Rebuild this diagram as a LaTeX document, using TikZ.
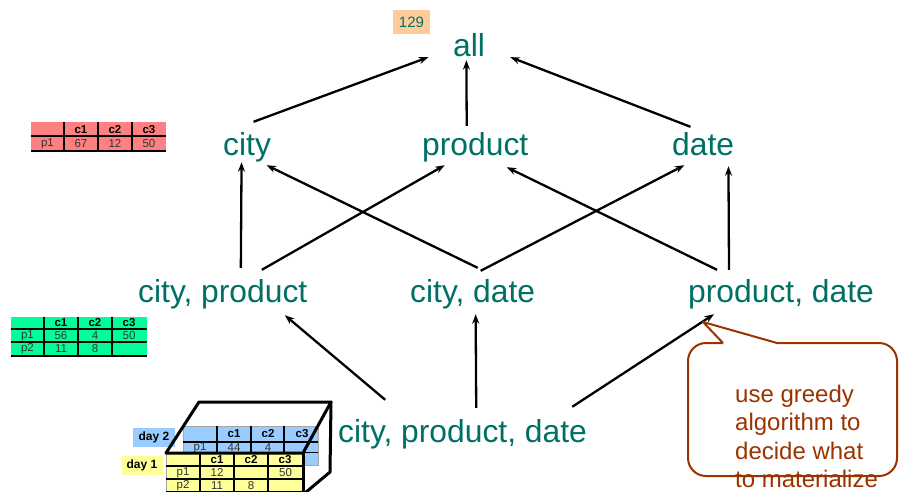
\documentclass[tikz,border=0pt]{standalone}
\usepackage{fontspec}
\setmainfont{Liberation Sans}
\usetikzlibrary{arrows.meta}
\definecolor{lattext}{RGB}{0,112,100}
\definecolor{notebrown}{RGB}{153,51,0}
\definecolor{tabred}{RGB}{255,128,128}
\definecolor{tabgreen}{RGB}{0,255,153}
\definecolor{tabblue}{RGB}{153,204,255}
\definecolor{tabyellow}{RGB}{255,255,153}
\definecolor{tabpeach}{RGB}{255,204,153}

\begin{document}
\begin{tikzpicture}[x=1pt,y=-1pt,>={Stealth[length=9.5pt,width=7pt]},
    lat/.style={anchor=base west,inner sep=0pt,text=lattext,
      font=\fontsize{31.8}{36}\selectfont,text height=23pt,text depth=7pt},
    link/.style={->,line width=2.3pt},
    tcell/.style={inner sep=0pt,text=black!80,font=\fontsize{11.5}{12}\selectfont},
    hcell/.style={inner sep=0pt,text=black,font=\fontsize{11.5}{12}\selectfont\bfseries},
    cellrule/.style={line width=1.3pt},
    rim/.style={line width=0.8pt,black!35},
    cubeedge/.style={line width=3pt,line join=round,line cap=round},
    daylabel/.style={inner sep=0pt,minimum height=19pt,font=\fontsize{12}{14}\selectfont\bfseries},
    callout/.style={line width=2pt,notebrown,line join=round}]
  \useasboundingbox (0,0) rectangle (899,491);

  % lattice
  \node[lat] (all) at (453,56) {all};
  \node[lat] (city) at (223,155) {city};
  \node[lat] (product) at (422,155) {product};
  \node[lat] (date) at (672,155) {date};
  \node[lat] (cp) at (138,302) {city, product};
  \node[lat] (cd) at (410,302) {city, date};
  \node[lat] (pd) at (688,302) {product, date};
  \node[lat] (cpd) at (338,442) {city, product, date};

  \node[fill=tabpeach,inner sep=0pt,minimum width=37pt,minimum height=24pt,
    text=lattext,font=\fontsize{15}{16}\selectfont] (cnt) at (411.5,22) {129};

  \draw[link] ([xshift=6.5pt,yshift=10pt]city.north) -- ([xshift=-40.75pt,yshift=6pt]all.south);
  \draw[link] ([xshift=-8.5pt,yshift=6pt]product.north) -- ([xshift=-2.75pt,yshift=3pt]all.south);
  \draw[link] ([xshift=-12.7pt,yshift=5pt]date.north) -- ([xshift=41.25pt,yshift=6pt]all.south);

  \draw[link] ([xshift=18.1pt,yshift=11pt]cp.north) -- ([xshift=-5.5pt]city.south);
  \draw[link] ([xshift=39.1pt,yshift=9pt]cp.north) -- ([xshift=-30.5pt,yshift=-3pt]product.south);
  \draw[link] ([xshift=5pt,yshift=11pt]cd.north) -- ([xshift=19.5pt,yshift=-3pt]city.south);
  \draw[link] ([xshift=8pt,yshift=8pt]cd.north) -- ([xshift=-18.7pt,yshift=-3pt]date.south);
  \draw[link] ([xshift=-64pt,yshift=9pt]pd.north) -- ([xshift=31.5pt,yshift=-5pt]product.south);
  \draw[link] ([xshift=-52pt,yshift=9pt]pd.north) -- ([xshift=25.3pt,yshift=-4pt]date.south);

  \draw[link] ([xshift=-77.3pt,yshift=19pt]cpd.north) -- ([xshift=62.1pt,yshift=-6pt]cp.south);
  \draw[link] ([xshift=13.7pt,yshift=11pt]cpd.north) -- ([xshift=3pt,yshift=-5pt]cd.south);
  \draw[link] ([xshift=109.7pt,yshift=12pt]cpd.north) -- ([xshift=-67pt,yshift=-5pt]pd.south);

  % red table
  \fill[tabred] (31,122) rectangle (166,151);
  \draw[cellrule] (31,136) -- (166,136) (31,151) -- (166,151);
  \foreach \x in {64,98,132} \draw[cellrule] (\x,122) -- (\x,151);
  \foreach \t [count=\i] in {c1,c2,c3} \node[hcell] (r-h\i) at (47+34*\i,129.5) {\t};
  \node[tcell] (r-p1) at (47.5,143.5) {p1};
  \foreach \t [count=\i] in {67,12,50} \node[tcell] (r-a\i) at (47+34*\i,143.5) {\t};

  % green table
  \fill[tabgreen] (11,317) rectangle (147,356);
  \draw[cellrule] (11,329) -- (147,329) (11,342) -- (147,342) (11,356) -- (147,356);
  \foreach \x in {44,78,112} \draw[cellrule] (\x,317) -- (\x,356);
  \foreach \t [count=\i] in {c1,c2,c3} \node[hcell] (g-h\i) at (27+34*\i,323) {\t};
  \node[tcell] (g-p1) at (27.5,335.5) {p1};
  \foreach \t [count=\i] in {56,4,50} \node[tcell] (g-a\i) at (27+34*\i,335.5) {\t};
  \node[tcell] (g-p2) at (27.5,349) {p2};
  \foreach \t [count=\i] in {11,8} \node[tcell] (g-b\i) at (27+34*\i,349) {\t};

  % day 2
  \fill[tabblue] (183,426) rectangle (318,465);
  \draw[rim] (183,426) rectangle (318,465);
  \draw[cellrule] (183,442) -- (318,442) (183,452.5) -- (318,452.5);
  \foreach \x in {217,251,284} \draw[cellrule] (\x,426) -- (\x,465);
  \foreach \t [count=\i] in {c1,c2,c3} \node[hcell] (b-h\i) at (200+34*\i,434) {\t};
  \node[tcell] (b-p1) at (200,447.5) {p1};
  \foreach \t [count=\i] in {44,4} \node[tcell] (b-a\i) at (200+34*\i,447.5) {\t};
  \node[daylabel,fill=tabblue,minimum width=42pt] (day2) at (154,437.5) {day 2};

  % day 1
  \fill[tabyellow] (166,453) rectangle (303,495);
  \draw[rim] (166,453) -- (166,495);
  \draw[cellrule] (166,466) -- (303,466) (166,479) -- (303,479) (166,492) -- (303,492);
  \foreach \x in {200,234,268} \draw[cellrule] (\x,453) -- (\x,495);
  \foreach \t [count=\i] in {c1,c2,c3} \node[hcell] (y-h\i) at (183+34*\i,459.5) {\t};
  \node[tcell] (y-p1) at (183,472.5) {p1};
  \node[tcell] (y-a1) at (217,472.5) {12};
  \node[tcell] (y-a3) at (285.5,472.5) {50};
  \node[tcell] (y-p2) at (183,485.5) {p2};
  \foreach \t [count=\i] in {11,8} \node[tcell] (y-b\i) at (183+34*\i,485.5) {\t};
  \node[daylabel,fill=tabyellow,minimum width=41pt] (day1) at (142,465.5) {day 1};

  % cube
  \draw[cubeedge] (166,453) -- (199,402) -- (331,402) -- (303,453) -- cycle;
  \draw[cubeedge] (331,402) -- (330,472) -- (305,493);
  \draw[cubeedge] (303,453) -- (303,495);

  % note
  \node[anchor=north west,inner sep=0pt,align=left,text=notebrown,
    font=\fontsize{24}{28.2}\selectfont] (note) at (735,385)
    {use greedy\\algorithm to\\decide what\\to materialize};
  \draw[callout,rounded corners=18pt] (723,343) -- (688,343) -- (688,476)
    -- (897,476) -- (897,343) -- (777,343);
  \draw[callout] (777,343) -- (703,322) -- (723,343);
\end{tikzpicture}
\end{document}
